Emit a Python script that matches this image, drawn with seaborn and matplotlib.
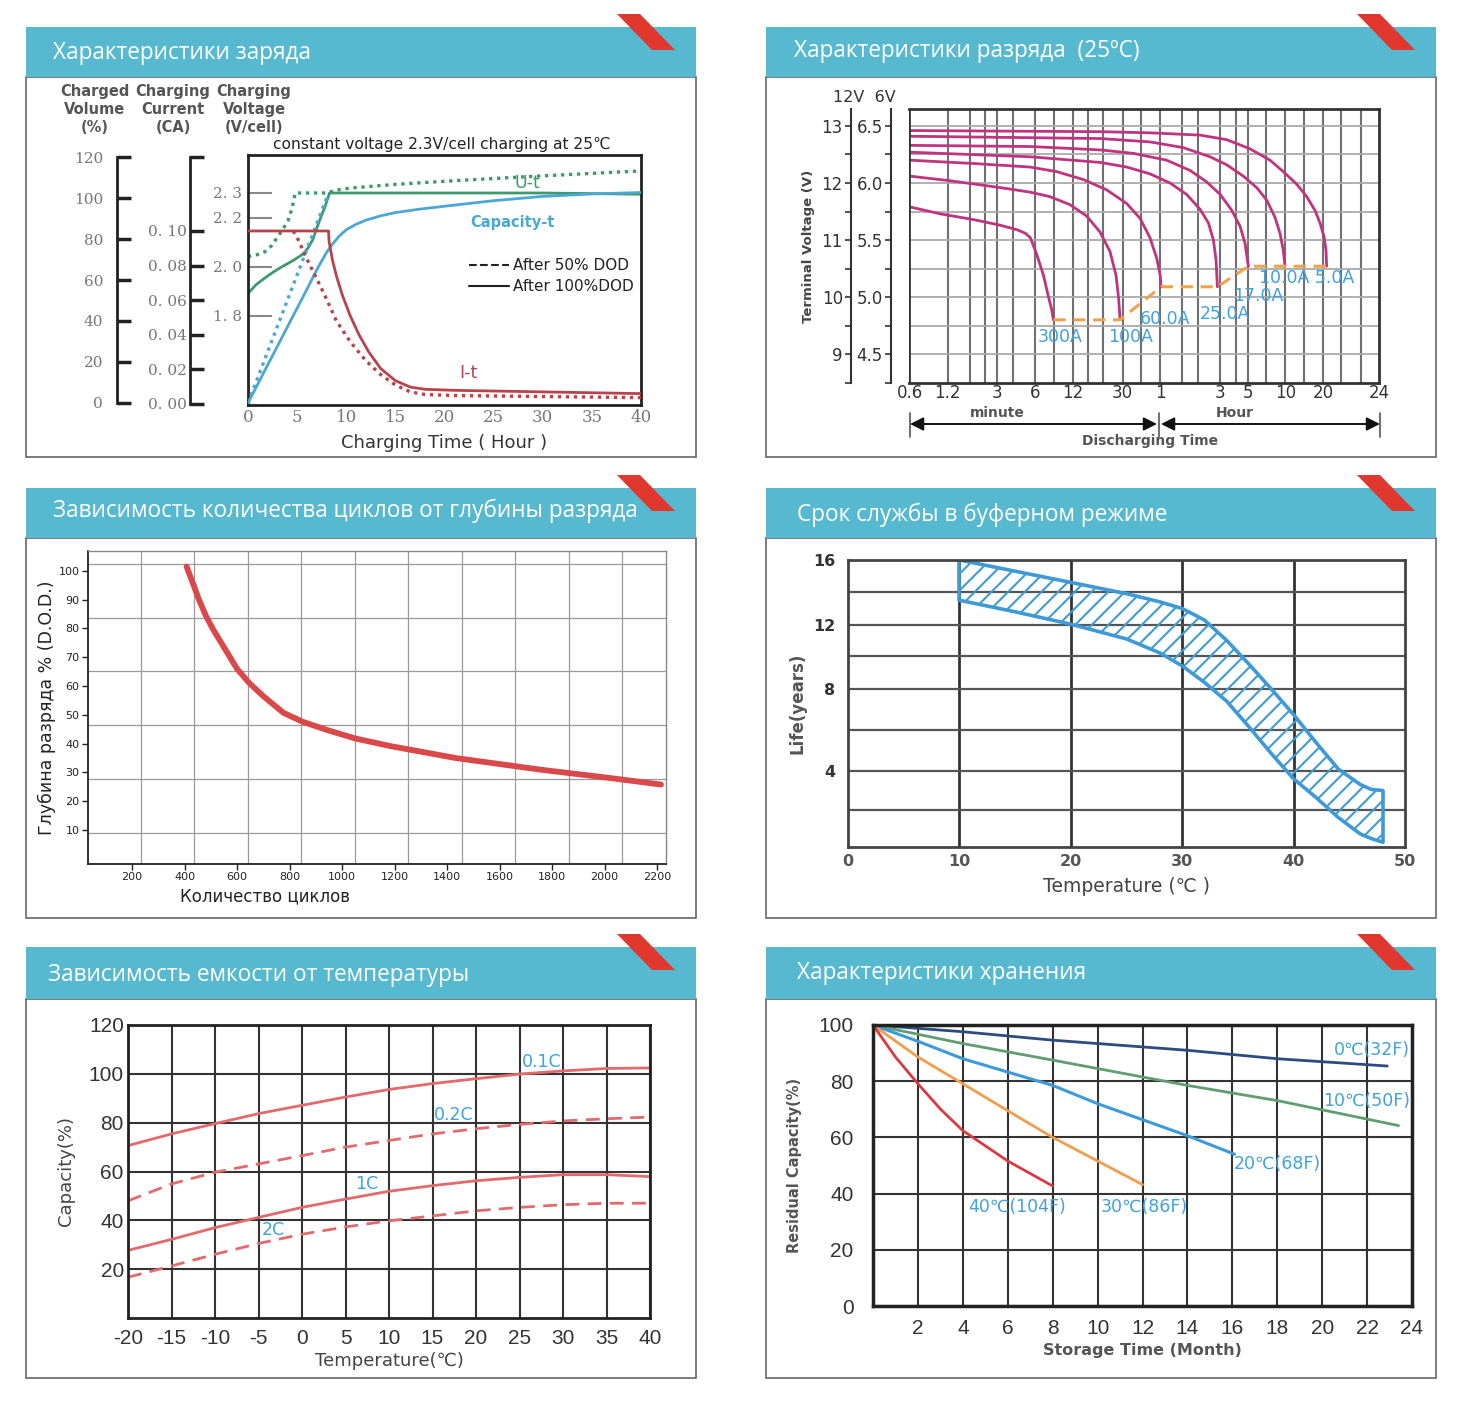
import numpy as np
import matplotlib
matplotlib.use("Agg")
import matplotlib.pyplot as plt
from matplotlib.patches import Rectangle, Polygon
from matplotlib.lines import Line2D
import seaborn as sns

# ---------------- data ----------------
# charging characteristics, time in hours
chg_volt100_t = [0, 0.8, 1.7, 2.6, 3.5, 4.4, 5.2, 5.7, 6.1, 6.6, 7.0, 7.4, 7.8, 8.3, 10, 20, 30, 40]
chg_volt100 = [1.89, 1.925, 1.953, 1.978, 2.00, 2.02, 2.04, 2.055, 2.075, 2.11, 2.157, 2.20,
               2.24, 2.30, 2.30, 2.30, 2.30, 2.295]
chg_volt50_t = [0, 0.9, 1.7, 2.4, 3.0, 3.6, 4.1, 4.5, 4.8, 8.0, 9.0, 10.4, 12.5, 15, 20.9, 30, 40]
chg_volt50 = [2.04, 2.048, 2.06, 2.085, 2.12, 2.155, 2.19, 2.24, 2.30, 2.30, 2.312, 2.32,
              2.327, 2.335, 2.35, 2.37, 2.39]
chg_cap100_t = [0, 2, 4, 6, 7, 8, 8.6, 9.3, 10, 11, 12, 13.5, 15, 17.5, 20, 25, 30, 35, 40]
chg_cap100 = [0, 18.5, 37, 55.5, 65, 73.5, 77.5, 81.5, 84.5, 87.2, 89.2, 91.3, 92.9, 94.6,
              96, 98.7, 100.8, 102, 102.7]
chg_cap50_t = [0, 2, 4, 6, 8.0]
chg_cap50 = [0, 25, 50, 75, 100]
chg_cur100_t = [0, 8.2, 8.25, 8.6, 9.0, 9.6, 10.4, 11.3, 12.3, 13.5, 15, 16.5, 18, 21, 30, 40]
chg_cur100 = [0.100, 0.100, 0.094, 0.083, 0.074, 0.063, 0.051, 0.040, 0.030, 0.0205, 0.0135,
              0.0098, 0.0085, 0.0079, 0.0070, 0.0060]
chg_cur50_t = [4.6, 5.2, 5.8, 6.5, 7.2, 7.8, 9, 10.4, 12, 13.5, 15, 16.5, 18, 20.9, 30, 40]
chg_cur50 = [0.100, 0.094, 0.086, 0.078, 0.070, 0.063, 0.048, 0.036, 0.025, 0.017, 0.011,
             0.0070, 0.0055, 0.0049, 0.0043, 0.0037]

# discharge characteristics, time in minutes, volts per 6V block
dis_5a_t = [0.6, 20, 50, 125, 204, 313, 453, 578, 740, 890, 1036, 1136, 1223, 1269, 1283]
dis_5a = [6.46, 6.45, 6.44, 6.42, 6.38, 6.30, 6.20, 6.10, 5.99, 5.88, 5.76, 5.65, 5.53, 5.41, 5.27]
dis_10a_t = [0.6, 20, 50, 92, 150, 204, 277, 354, 426, 496, 544, 578, 597]
dis_10a = [6.41, 6.39, 6.36, 6.31, 6.23, 6.16, 6.06, 5.96, 5.85, 5.70, 5.56, 5.41, 5.27]
dis_17a_t = [0.6, 5.5, 20, 36.6, 67.6, 104, 141, 181, 224, 261, 286, 304]
dis_17a = [6.33, 6.32, 6.29, 6.26, 6.20, 6.11, 6.01, 5.90, 5.76, 5.62, 5.47, 5.27]
dis_25a_t = [0.6, 5.5, 20, 32.4, 49.7, 71.9, 97.6, 124.8, 145.7, 159.7, 167.5, 172]
dis_25a = [6.27, 6.23, 6.18, 6.14, 6.08, 6.00, 5.90, 5.77, 5.65, 5.50, 5.33, 5.09]
dis_60a_t = [0.6, 2, 5.46, 8.9, 14.6, 22.4, 32.4, 41.4, 49.7, 56.3, 60, 60.9]
dis_60a = [6.20, 6.17, 6.14, 6.10, 6.03, 5.94, 5.82, 5.69, 5.52, 5.34, 5.19, 5.09]
dis_100a_t = [0.6, 1.25, 3.15, 5.46, 7.9, 11.4, 15.5, 19.8, 23.8, 26.6, 27.9, 28.7]
dis_100a = [6.06, 6.02, 5.96, 5.92, 5.88, 5.81, 5.71, 5.57, 5.40, 5.19, 4.99, 4.80]
dis_300a_t = [0.6, 1.04, 1.91, 3.15, 4.3, 5.0, 5.5, 6.2, 7.0, 7.6, 8.1, 8.4]
dis_300a = [5.79, 5.73, 5.68, 5.63, 5.59, 5.56, 5.52, 5.37, 5.19, 5.02, 4.90, 4.80]
cutoff_t = [8.4, 28.7, 60.9, 172, 304, 1283]
cutoff_v = [4.80, 4.80, 5.09, 5.09, 5.27, 5.27]
dis_tick_pos = [0.6, 1.2, 3, 6, 12, 30, 60, 180, 300, 600, 1200, 3366]
dis_tick_lab = ["0.6", "1.2", "3", "6", "12", "30", "1", "3", "5", "10", "20", "24"]
dis_grid_pos = [1.2, 1.8, 2.4, 3, 4, 6, 8.5, 12, 16, 21, 30, 42, 60, 90, 120, 180,
                240, 300, 420, 600, 840, 1200, 1680, 2400]

# cycle life vs depth of discharge
cyc_n = [408, 420, 433, 455, 482, 510, 550, 600, 646, 700, 777, 850, 941, 1050, 1187,
         1433, 1761, 2000, 2215]
cyc_dod = [101.5, 98.5, 95.5, 90.0, 84.3, 79.5, 73.5, 66.0, 61.1, 56.5, 50.7, 47.6, 44.8,
           41.8, 39.1, 35.0, 30.9, 28.3, 25.8]

# float service life
fl_temp = [10, 15, 20, 25, 28, 30, 32, 34, 36, 38, 40, 42, 44, 46, 47, 48]
fl_upper = [16.0, 15.3, 14.6, 13.9, 13.4, 13.0, 12.3, 11.0, 9.5, 8.0, 6.75, 5.4, 4.1, 3.3, 3.05, 3.0]
fl_lower = [13.5, 12.8, 12.05, 11.1, 10.2, 9.4, 8.4, 7.4, 6.15, 4.85, 3.6, 2.65, 1.6, 0.7, 0.45, 0.26]

# capacity vs temperature
ct_temp = [-20, -15, -10, -5, 0, 5, 10, 15, 20, 25, 30, 35, 40]
ct_01c = [70.6, 75.4, 79.6, 83.7, 87.1, 90.5, 93.6, 96.0, 98.0, 99.9, 101.2, 102.2, 102.4]
ct_02c = [48.0, 54.9, 59.7, 63.1, 66.5, 70.0, 72.7, 75.4, 77.5, 79.3, 80.7, 81.6, 82.3]
ct_1c = [27.7, 32.2, 37.0, 41.2, 45.3, 48.7, 51.9, 54.2, 56.2, 57.6, 58.7, 58.7, 57.9]
ct_2c = [16.7, 21.3, 26.1, 30.5, 34.3, 37.3, 39.8, 41.8, 43.9, 45.3, 46.4, 47.0, 47.0]

# storage (self discharge)
st_0c_m = [0, 4, 8, 14, 18, 22.9]
st_0c = [100, 97.6, 94.6, 91.0, 88.0, 85.4]
st_10c_m = [0, 4, 8, 14, 18, 23.4]
st_10c = [100, 93.4, 87.5, 78.5, 73.1, 64.2]
st_20c_m = [0, 2, 4, 8, 10, 14, 16.1]
st_20c = [100, 94.2, 88.0, 78.5, 72.0, 60.6, 54.0]
st_30c_m = [0, 2, 4, 6, 8, 10, 12]
st_30c = [100, 88.6, 79.1, 69.5, 60.0, 51.6, 43.2]
st_40c_m = [0, 1, 2, 3, 4, 6, 8]
st_40c = [100, 88.6, 79.1, 70.1, 62.4, 51.6, 42.7]

titles = ["Характеристики заряда", "Характеристики разряда  (25ºC)",
          "Зависимость количества циклов от глубины разряда", "Срок службы в буферном режиме",
          "Зависимость емкости от температуры", "Характеристики хранения"]

# ---------------- figure ----------------
sns.set_theme(style="white")
plt.rcParams["font.family"] = ["DejaVu Sans"]
plt.rcParams["hatch.linewidth"] = 1.5
plt.rcParams["axes.unicode_minus"] = False

W, H = 1458, 1402
fig = plt.figure(figsize=(W / 100, H / 100), dpi=100)

HEAD = "#57b9cf"
STRIPE = "#e0382f"
LBL = "#3fa2dc"
NUM = "Liberation Sans"


def add_ax(x0, y0, x1, y1):
    return fig.add_axes([x0 / W, 1 - y1 / H, (x1 - x0) / W, (y1 - y0) / H])


def line(ax, x, y, color, lw=2, ls="-"):
    sns.lineplot(x=x, y=y, ax=ax, color=color, lw=lw, linestyle=ls,
                 sort=False, estimator=None)


# background: panel frames, headers, red stripes
bg = fig.add_axes([0, 0, 1, 1])
bg.set_xlim(0, W)
bg.set_ylim(H, 0)
bg.axis("off")
panels = [(26, 27, 77, 457), (766, 27, 77, 457), (26, 488, 538, 918),
          (766, 488, 538, 918), (26, 947, 999, 1378), (766, 947, 999, 1378)]
title_pos = [(53, 53), (794, 51), (53, 511), (797, 515), (48, 975), (797, 973)]
for (x0, htop, hbot, ybot), title, (tx, ty) in zip(panels, titles, title_pos):
    bg.add_patch(Rectangle((x0, hbot), 670, ybot - hbot, fill=False, ec="#666", lw=1.2))
    bg.add_patch(Rectangle((x0, htop), 670, hbot - htop, fc=HEAD, ec="none"))
    xr = x0 + 670
    bg.add_patch(Polygon([(xr - 79, htop - 13), (xr - 56, htop - 13), (xr - 21, htop + 23),
                          (xr - 44, htop + 23)], closed=True, fc=STRIPE, ec="none"))
    bg.text(tx, ty, title, color="white", fontsize=16.3, family="Open Sans",
            ha="left", va="center")

# ---------------- 1: charging ----------------
ax1 = add_ax(248, 155, 641, 405)
ax1.set_xlim(0, 40)
ax1.set_ylim(1.435, 2.455)
ax1.set_xticks(range(0, 41, 5))
ax1.set_yticks([1.8, 2.0, 2.2, 2.3])
ax1.set_yticklabels(["1. 8", "2. 0", "2. 2", "2. 3"])
ax1.tick_params(axis="y", direction="in", length=17, width=1.5, color="#888",
                labelsize=11, labelcolor="#777", pad=4)
ax1.tick_params(axis="x", direction="in", length=5, width=1.2, color="#777",
                labelsize=12, labelcolor="#777", pad=3)
for s in ax1.spines.values():
    s.set_color("#222")
    s.set_linewidth(2)
line(ax1, chg_volt100_t, chg_volt100, "#3d9a6c", 2)
line(ax1, chg_volt50_t, chg_volt50, "#3d9a6c", 2.4, (0, (1, 1.4)))
ax1.set_xlabel("Charging Time ( Hour )", fontsize=13, color="#333", labelpad=6)

axp = ax1.twinx()
axc = ax1.twinx()
for tw, pos, pd in ((axp, -0.333, 10), (axc, -0.1476, 2)):
    for k, s in tw.spines.items():
        s.set_visible(k == "left")
    tw.spines["left"].set_position(("axes", pos))
    tw.spines["left"].set_linewidth(2)
    tw.spines["left"].set_color("#222")
    tw.yaxis.set_ticks_position("left")
    tw.tick_params(axis="y", direction="in", length=10, width=2.5, color="#222",
                   labelsize=11, labelcolor="#777", pad=pd)
axp.set_ylim(-1, 121)
axp.set_yticks(range(0, 121, 20))
axp.spines["left"].set_bounds(0, 120)
axc.set_ylim(-0.00058, 0.1439)
axc.set_yticks([0, 0.02, 0.04, 0.06, 0.08, 0.10, 0.1425])
axc.set_yticklabels(["0. 00", "0. 02", "0. 04", "0. 06", "0. 08", "0. 10", ""])
axc.spines["left"].set_bounds(0, 0.1425)
for lab in axp.get_yticklabels() + axc.get_yticklabels() + ax1.get_yticklabels() + ax1.get_xticklabels():
    lab.set_family("DejaVu Serif")

line(axp, chg_cap100_t, chg_cap100, "#4aa8d3", 2)
line(axp, chg_cap50_t, chg_cap50, "#4aa8d3", 2.4, (0, (1, 1.4)))
line(axc, chg_cur100_t, chg_cur100, "#b7434d", 2)
line(axc, chg_cur50_t, chg_cur50, "#b7434d", 2.4, (0, (1, 1.4)))

ax1.text(28.4, 2.34, "U-t", color="#3d9a6c", fontsize=12.5, ha="center", va="center")
ax1.text(26.9, 2.18, "Capacity-t", color="#4aa8d3", fontsize=10.5, weight="bold",
         ha="center", va="center")
ax1.text(22.4, 1.565, "I-t", color="#b7434d", fontsize=12.5, ha="center", va="center")
leg = ax1.legend(handles=[Line2D([], [], color="#222", ls="--", lw=1.5),
                          Line2D([], [], color="#222", ls="-", lw=1.5)],
                 labels=["After 50% DOD", "After 100%DOD"], loc="upper right",
                 bbox_to_anchor=(1.01, 0.63), frameon=False, fontsize=11,
                 handlelength=2.6, handletextpad=0.3, labelspacing=0.4, borderpad=0.2)
for t in leg.get_texts():
    t.set_color("#222")

for cx, txt in ((95, "Charged\nVolume\n(%)"), (173, "Charging\nCurrent\n(CA)"),
                (254, "Charging\nVoltage\n(V/cell)")):
    bg.text(cx, 84, txt, ha="center", va="top", fontsize=10.5, color="#555",
            weight="bold", linespacing=1.25)
bg.text(273, 145, "constant voltage 2.3V/cell charging at 25\u2103", ha="left", va="center",
        fontsize=11.2, color="#222")

# ---------------- 2: discharge ----------------
ax2 = add_ax(909, 109, 1379, 383)
ax2.set_xscale("log")
ax2.set_xlim(0.589, 3366)
ax2.set_ylim(4.246, 6.649)
for xg in dis_grid_pos:
    ax2.axvline(xg, color="#707070", lw=1.5, zorder=0)
for yg in np.arange(4.5, 6.6, 0.25):
    ax2.axhline(yg, color="#aaaaaa", lw=1.3, zorder=0)
for t, v in ((dis_5a_t, dis_5a), (dis_10a_t, dis_10a), (dis_17a_t, dis_17a),
             (dis_25a_t, dis_25a), (dis_60a_t, dis_60a), (dis_100a_t, dis_100a),
             (dis_300a_t, dis_300a)):
    line(ax2, t, v, "#c0337f", 2)
line(ax2, cutoff_t, cutoff_v, "#f0a24c", 2.2, (0, (4, 2.5)))
ax2.xaxis.set_minor_locator(matplotlib.ticker.NullLocator())
ax2.set_xticks(dis_tick_pos)
ax2.set_xticklabels(dis_tick_lab)
ax2.tick_params(axis="x", length=0, labelsize=12, labelcolor="#333", pad=1)
for s in ax2.spines.values():
    s.set_color("#333")
    s.set_linewidth(2)
ax2.spines["left"].set_position(("axes", -0.038))
ax2.spines["left"].set_linewidth(1.5)
ax2.set_yticks([4.5, 5.0, 5.5, 6.0, 6.5])
ax2.set_yticklabels(["4.5", "5.0", "5.5", "6.0", "6.5"])
ax2.set_yticks(np.arange(4.25, 6.7, 0.25), minor=True)
ax2.tick_params(axis="y", which="both", direction="out", length=4, width=1.2,
                color="#333", labelsize=12, labelcolor="#333", pad=2)
# the box line on the left is drawn separately since the spine is offset
ax2.axvline(0.589, color="#333", lw=2)
ax2v = ax2.twinx()
for k, s in ax2v.spines.items():
    s.set_visible(k == "left")
ax2v.spines["left"].set_position(("axes", -0.123))
ax2v.spines["left"].set_linewidth(1.5)
ax2v.spines["left"].set_color("#333")
ax2v.yaxis.set_ticks_position("left")
ax2v.yaxis.set_label_position("left")
ax2v.set_ylim(8.492, 13.298)
ax2v.set_yticks([9, 10, 11, 12, 13])
ax2v.set_yticks(np.arange(8.5, 13.3, 0.5), minor=True)
ax2v.tick_params(axis="y", which="both", direction="out", length=4, width=1.2,
                 color="#333", labelsize=12, labelcolor="#333", pad=2)
ax2v.set_ylabel("Terminal Voltage (V)", fontsize=9.5, color="#444", weight="bold",
                labelpad=5)
for x, y, txt in ((9.5, 4.65, "300A"), (35, 4.65, "100A"), (65, 4.81, "60.0A"),
                  (198, 4.85, "25.0A"), (363, 5.01, "17.0A"), (895, 5.17, "10.0A 5.0A")):
    ax2.text(x, y, txt, color=LBL, fontsize=12.5, ha="center", va="center")
bg.text(864, 97, "12V  6V", ha="center", va="center", fontsize=11.5, color="#333")
bg.text(997, 413, "minute", ha="center", va="center", fontsize=10, color="#555", weight="bold")
bg.text(1235, 413, "Hour", ha="center", va="center", fontsize=10, color="#555", weight="bold")
bg.text(1150, 441, "Discharging Time", ha="center", va="center", fontsize=10,
        color="#555", weight="bold")
for a, b in ((910, 1157), (1161, 1380)):
    bg.annotate("", xy=(a, 424), xytext=(b, 424),
                arrowprops=dict(arrowstyle="<|-|>", color="#111", lw=1.4,
                                mutation_scale=20, shrinkA=0, shrinkB=0))
for xv in (910, 1159, 1380):
    bg.plot([xv, xv], [413, 437], color="#555", lw=1.2)

# ---------------- 3: cycle life ----------------
ax3 = add_ax(88, 551, 666, 864)
ax3.set_xlim(32.4, 2234)
ax3.set_ylim(-1.8, 106.9)
ax3.set_xticks(range(200, 2201, 200))
ax3.set_yticks(range(10, 101, 10))
ax3.set_xticks(np.linspace(234, 2067, 10), minor=True)
ax3.set_yticks(np.linspace(9.0, 102.5, 6), minor=True)
ax3.grid(which="minor", color="#9a9a9a", lw=0.9)
ax3.grid(which="major", visible=False)
ax3.tick_params(which="minor", length=0)
ax3.tick_params(which="major", direction="out", length=4, width=1, color="#222",
                labelsize=8, labelcolor="#222", pad=2, bottom=True, left=True)
for k, s in ax3.spines.items():
    s.set_color("#222" if k in ("left", "bottom") else "#888")
    s.set_linewidth(1.3 if k in ("left", "bottom") else 1)
line(ax3, cyc_n, cyc_dod, "#d9494a", 4.2)
ax3.set_ylabel("Глубина разряда % (D.O.D.)", fontsize=12.5, color="#222")
ax3.yaxis.set_label_coords(-0.055, 0.5)
ax3.set_xlabel("Количество циклов", fontsize=12, color="#222")
ax3.xaxis.set_label_coords(0.306, -0.075)

# ---------------- 4: float life ----------------
ax4 = add_ax(848, 560, 1405, 847)
life_marks = [0, 2, 4, 6, 8, 10, 12, 14, 16]
life_px = [0, 37, 76, 117, 158, 191, 222, 255, 287]
ax4.set_yscale("function", functions=(lambda v: np.interp(v, life_marks, life_px),
                                      lambda p: np.interp(p, life_px, life_marks)))
ax4.set_xlim(0, 50)
ax4.set_ylim(0, 16)
ax4.set_xticks(range(0, 51, 10))
ax4.set_yticks([4, 8, 12, 16])
ax4.set_yticks(range(2, 15, 2), minor=True)
for xg in range(10, 50, 10):
    ax4.axvline(xg, color="#333", lw=2, zorder=0)
for yg in range(2, 15, 2):
    ax4.axhline(yg, color="#555", lw=1.6, zorder=0)
ax4.tick_params(which="both", length=0)
ax4.tick_params(axis="x", labelsize=11.5, labelcolor="#555", pad=5)
ax4.tick_params(axis="y", labelsize=11.5, labelcolor="#333", pad=9)
for lab in ax4.get_xticklabels() + ax4.get_yticklabels():
    lab.set_weight("bold")
for s in ax4.spines.values():
    s.set_color("#444")
    s.set_linewidth(2)
ax4.fill_between(fl_temp, fl_lower, fl_upper, facecolor="none", edgecolor="#3d9ad6",
                 hatch="//", linewidth=0)
line(ax4, fl_temp, fl_upper, "#3d9ad6", 2.6)
line(ax4, fl_temp, fl_lower, "#3d9ad6", 2.6)
line(ax4, [fl_temp[0], fl_temp[0]], [fl_lower[0], fl_upper[0]], "#3d9ad6", 2.6)
line(ax4, [fl_temp[-1], fl_temp[-1]], [fl_lower[-1], fl_upper[-1]], "#3d9ad6", 2.6)
ax4.set_ylabel("Life(years)", fontsize=12, color="#555", weight="bold", labelpad=5)
ax4.set_xlabel("Temperature (\u2103 )", fontsize=13.5, color="#444", labelpad=6)

# ---------------- 5: capacity vs temperature ----------------
ax5 = add_ax(128, 1025, 650, 1318)
ax5.set_xlim(-20, 40)
ax5.set_ylim(0, 120)
ax5.set_xticks(range(-20, 41, 5))
ax5.set_yticks(range(20, 121, 20))
ax5.grid(color="#333", lw=1.5)
ax5.tick_params(length=0, labelsize=15, labelcolor="#333")
ax5.tick_params(axis="y", pad=3)
ax5.tick_params(axis="x", pad=8)
for lab in ax5.get_xticklabels() + ax5.get_yticklabels():
    lab.set_family(NUM)
for s in ax5.spines.values():
    s.set_color("#222")
    s.set_linewidth(2)
line(ax5, ct_temp, ct_01c, "#e26a6d", 2)
line(ax5, ct_temp, ct_02c, "#e26a6d", 2, (0, (5, 3)))
line(ax5, ct_temp, ct_1c, "#e26a6d", 2)
line(ax5, ct_temp, ct_2c, "#e26a6d", 2, (0, (5, 3)))
for x, y, txt in ((27.5, 104.8, "0.1C"), (17.4, 83.1, "0.2C"), (7.4, 54.9, "1C"), (-3.3, 36.0, "2C")):
    ax5.text(x, y, txt, color=LBL, fontsize=12.5, ha="center", va="center")
ax5.set_ylabel("Capacity(%)", fontsize=13, color="#444", labelpad=10)
ax5.set_xlabel("Temperature(\u2103)", fontsize=13, color="#444", labelpad=3)

# ---------------- 6: storage ----------------
ax6 = add_ax(873, 1025, 1412, 1306)
ax6.set_xlim(0, 24)
ax6.set_ylim(0, 100)
ax6.set_xticks(range(2, 25, 2))
ax6.set_yticks(range(0, 101, 20))
ax6.set_xticks(range(0, 25, 2), minor=True)
ax6.grid(which="both", color="#333", lw=1.5)
ax6.tick_params(which="both", length=0, labelsize=15, labelcolor="#333")
ax6.tick_params(axis="y", pad=14)
ax6.tick_params(axis="x", pad=9)
for lab in ax6.get_xticklabels() + ax6.get_yticklabels():
    lab.set_family(NUM)
for s in ax6.spines.values():
    s.set_color("#222")
    s.set_linewidth(2.5)
line(ax6, st_0c_m, st_0c, "#2b4c7e", 2)
line(ax6, st_10c_m, st_10c, "#5e9e70", 2)
line(ax6, st_20c_m, st_20c, "#3b9ad9", 2.2)
line(ax6, st_30c_m, st_30c, "#f29d4b", 2)
line(ax6, st_40c_m, st_40c, "#d93a40", 2)
for x, y, txt in ((22.2, 91.1, "0\u2103(32F)"), (22.0, 73.0, "10\u2103(50F)"),
                  (18.0, 50.5, "20\u2103(68F)"), (6.4, 35.2, "40\u2103(104F)"),
                  (12.1, 35.2, "30\u2103(86F)")):
    ax6.text(x, y, txt, color=LBL, fontsize=12.5, ha="center", va="center")
ax6.set_ylabel("Residual Capacity(%)", fontsize=10.5, color="#555", weight="bold", labelpad=12)
ax6.set_xlabel("Storage Time (Month)", fontsize=11.5, color="#555", weight="bold", labelpad=4)

fig.savefig("out.png", dpi=100)
